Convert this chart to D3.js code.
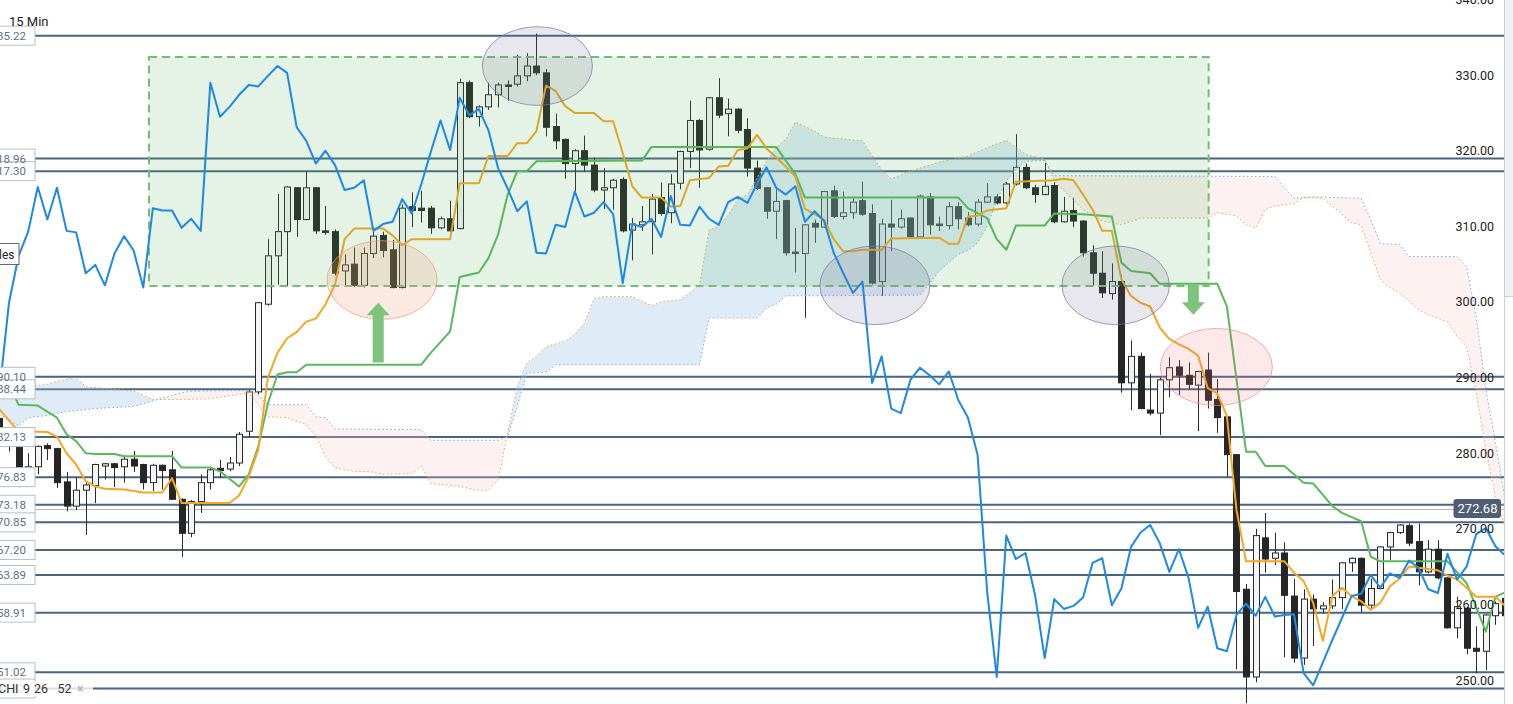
<!DOCTYPE html>
<html>
<head>
<meta charset="utf-8">
<script src="https://cdn.jsdelivr.net/npm/d3@7"></script>
<style>
html, body { margin: 0; padding: 0; background: #fff; overflow: hidden; }
svg { display: block; font-family: Roboto, "Open Sans", sans-serif; }
</style>
</head>
<body>
<div id="chart"></div>
<script>
// 15 min candles, first one sits at bar index -1 (half off the left edge)
var firstIndex = -1;
var candles = [ // [open, high, low, close]
	[284.6,285.5,281.0,281.8],[281.0,283.0,280.2,281.8],[280.9,282.4,275.5,276.3],[276.3,280.0,276.0,278.2],
	[278.2,281.0,277.2,280.9],[281.0,281.3,279.1,280.6],[280.6,280.7,275.4,276.1],[276.2,277.5,272.3,273.0],
	[273.0,276.8,272.5,275.1],[275.1,276.3,269.2,275.8],[275.7,278.6,273.4,278.5],[278.3,278.7,276.5,278.6],
	[278.6,278.7,275.5,278.1],[278.2,279.5,276.1,279.2],[279.2,280.3,277.5,278.3],[278.5,278.6,275.2,276.1],
	[276.1,278.6,275.0,278.4],[278.4,278.5,275.2,277.7],[277.8,280.3,273.8,273.9],[273.9,274.0,266.3,269.4],
	[269.4,273.8,268.9,273.6],[273.6,277.2,272.1,276.1],[276.1,278.2,275.2,277.8],[278.0,279.1,276.7,277.7],
	[277.9,279.5,277.6,278.7],[278.7,282.8,278.3,282.5],[282.9,288.4,282.1,288.1],[288.1,300.0,287.8,299.9],
	[299.7,308.3,299.5,306.1],[306.1,314.3,302.3,309.3],[309.3,315.3,302.1,315.2],[315.1,315.2,308.6,310.9],
	[310.9,317.3,310.8,315.1],[315.1,315.2,309.0,309.4],[309.4,312.7,308.9,309.2],[309.3,309.6,303.5,303.8],
	[304.1,306.3,302.1,304.9],[305.0,307.2,302.0,302.2],[302.2,307.2,301.9,306.4],[306.4,309.3,305.8,308.7],
	[308.8,309.3,305.9,306.8],[306.9,308.2,301.8,301.9],[301.9,312.9,301.8,312.4],[312.6,314.5,309.9,312.1],
	[312.4,314.7,310.5,312.1],[312.4,312.7,309.0,309.8],[309.8,311.3,309.6,311.0],[311.0,313.4,309.3,309.4],
	[309.7,329.5,309.6,329.0],[329.0,329.3,324.3,324.5],[324.5,326.0,323.2,325.8],[325.8,329.0,325.4,327.4],
	[327.4,329.0,325.7,328.7],[328.7,329.3,326.6,328.5],[328.8,332.7,328.5,329.9],[329.9,332.9,329.2,331.2],
	[331.2,335.5,330.0,330.3],[330.3,330.8,321.9,323.1],[323.2,324.9,320.2,321.3],[321.5,321.6,316.3,318.3],
	[318.3,320.2,314.6,320.0],[320.0,322.0,317.2,318.1],[318.1,319.1,314.5,314.8],[314.8,317.7,312.3,315.1],
	[315.1,316.3,312.2,316.1],[316.2,316.5,309.2,309.4],[309.5,311.1,305.5,310.3],[310.2,312.7,309.4,310.6],
	[310.6,314.3,306.3,313.6],[313.8,315.8,311.4,311.7],[311.8,316.9,310.4,315.6],[315.7,320.0,314.9,319.9],
	[319.9,326.6,317.7,324.0],[324.0,324.2,315.1,320.1],[320.2,327.1,320.0,327.0],[327.0,329.6,324.3,324.7],
	[324.9,326.9,321.9,325.5],[325.5,325.6,322.3,322.7],[322.8,324.3,316.6,317.7],[317.7,318.7,314.8,315.0],
	[315.1,315.2,311.0,312.0],[312.0,314.9,308.3,313.3],[313.4,313.5,306.1,306.5],[306.6,309.8,303.9,306.4],
	[306.4,310.3,297.9,310.2],[310.4,310.9,307.8,309.9],[309.9,314.7,309.8,314.6],[314.7,315.4,311.1,311.3],
	[311.3,314.6,310.9,311.8],[311.8,313.9,311.0,313.2],[313.4,315.9,311.4,311.6],[311.7,312.9,302.3,302.5],
	[302.7,311.0,300.8,310.3],[310.3,313.5,306.7,309.9],[309.9,312.2,309.7,311.0],[311.1,311.2,308.4,308.6],
	[308.6,314.2,308.4,314.0],[313.9,314.4,308.9,310.2],[310.3,311.3,309.4,310.1],[310.1,313.2,309.6,312.6],
	[312.6,313.2,309.6,311.0],[311.1,311.9,310.0,310.2],[310.3,313.6,310.0,313.2],[313.2,315.7,313.1,313.9],
	[313.9,314.3,312.9,313.1],[313.1,315.9,312.9,315.6],[315.6,322.2,315.4,317.8],[317.8,318.3,314.9,315.1],
	[315.1,315.5,313.1,314.2],[314.2,318.4,314.1,315.3],[315.4,315.8,310.4,310.6],[310.6,313.9,310.5,312.0],
	[312.1,313.8,309.9,310.7],[310.7,310.8,306.0,306.5],[306.5,307.5,302.2,303.8],[303.8,306.7,300.5,301.2],
	[301.1,305.1,300.3,302.7],[302.7,303.6,288.0,289.3],[289.3,294.9,285.7,292.8],[292.8,293.3,285.8,285.9],
	[285.7,290.5,285.0,285.3],[285.3,290.0,282.4,289.7],[289.7,292.7,287.4,291.3],[291.4,292.3,287.7,290.3],
	[290.3,292.0,288.4,289.1],[289.0,290.9,282.9,290.8],[291.0,293.3,285.9,287.0],[287.1,289.8,282.7,284.7],
	[284.8,284.9,276.9,279.8],[279.8,279.9,251.4,261.7],[262.0,262.7,246.9,250.4],[250.4,270.0,249.7,269.1],
	[268.8,272.1,264.2,266.0],[266.1,269.5,265.2,266.8],[266.8,268.2,253.0,261.2],[261.1,263.4,252.3,252.9],
	[252.9,262.0,252.0,260.7],[260.7,261.3,254.5,259.4],[259.4,260.3,258.8,259.8],[259.8,263.3,259.4,260.9],
	[260.9,265.6,259.4,265.5],[265.5,266.2,264.3,266.1],[266.1,266.2,259.0,259.9],[259.9,263.4,259.4,262.1],
	[262.1,267.7,262.0,267.6],[267.6,269.6,265.9,269.5],[269.5,270.6,269.3,270.5],[270.4,270.7,267.7,268.1],
	[268.3,270.7,262.5,264.3],[264.3,268.5,264.1,267.3],[267.3,268.5,263.3,263.5],[263.5,263.6,256.8,256.9],
	[256.9,261.0,255.5,259.7],[259.5,259.7,253.4,254.2],[254.2,257.1,250.9,253.8],[253.8,258.7,251.3,258.6],
	[258.5,260.4,257.3,260.1],[260.8,261.0,258.3,258.5]
];

// lagging span (blue), one value per bar starting at index -1
var laggingSpan = [288.1,
	299.9,306.1,309.3,315.2,310.9,315.1,309.4,309.2,303.8,304.9,
	302.2,306.4,308.7,306.8,301.9,312.4,312.1,312.1,309.8,311.0,
	309.4,329.0,324.5,325.8,327.4,328.7,328.5,329.9,331.2,330.3,
	323.1,321.3,318.3,320.0,318.1,314.8,315.1,316.1,309.4,310.3,
	310.6,313.6,311.7,315.6,319.9,324.0,320.1,327.0,324.7,325.5,
	322.7,317.7,315.0,312.0,313.3,306.5,306.4,310.2,309.9,314.6,
	311.3,311.8,313.2,311.6,302.5,310.3,309.9,311.0,308.6,314.0,
	310.2,310.1,312.6,311.0,310.2,313.2,313.9,313.1,315.6,317.8,
	315.1,314.2,315.3,310.6,312.0,310.7,306.5,303.8,301.2,302.7,
	289.3,292.8,285.9,285.3,289.7,291.3,290.3,289.1,290.8,287.0,
	284.7,279.8,261.7,250.4,269.1,266.0,266.8,261.2,252.9,260.7,
	259.4,259.8,260.9,265.5,266.1,259.9,262.1,267.6,269.5,270.5,
	268.1,264.3,267.3,263.5,256.9,259.7,254.2,253.8,258.6,260.1,
	258.5,261.0,258.4,258.6,258.7,250.9,249.3,252.3,255.3,258.2,
	261.1,261.4,263.9,262.2,264.1,263.5,265.8,264.8,262.0,261.5,
	266.7,263.3,265.0,269.3,270.1,267.7,266.5];

// conversion line (orange) - [bar, value] at the turning points
var tenkan = [[-1,285.8],[1,282.9],[4,282.8],[5,282.2],[6,280.0],[7,278.5],[8,276.3],[9,275.6],[10,275.3],[12,275.2],
	[13,275.0],[14,274.8],[16,274.8],[17,276.7],[18,273.4],[23,273.4],[24,274.4],[25,276.9],[26,280.5],[27,290.0],
	[28,293.3],[29,295.2],[30,296.0],[31,297.4],[32,297.8],[33,299.7],[34,302.3],[35,308.3],[36,309.7],[39,309.7],
	[40,308.8],[41,307.5],[42,308.3],[46,308.3],[47,315.7],[49,315.7],[50,319.3],[52,319.3],[53,321.0],[54,321.0],
	[55,322.6],[56,328.6],[57,327.9],[58,325.9],[59,325.0],[61,325.0],[62,323.9],[63,323.9],[64,319.7],[65,315.3],
	[66,313.8],[68,313.8],[69,312.6],[70,312.7],[71,316.1],[73,316.4],[74,317.9],[75,318.0],[76,320.1],[77,320.3],
	[78,322.1],[79,320.3],[81,317.9],[82,316.6],[83,312.3],[84,311.6],[85,310.9],[86,308.3],[87,306.7],[88,306.7],
	[89,306.9],[91,306.9],[92,308.4],[97,308.5],[98,307.7],[99,307.7],[100,311.3],[101,311.4],[102,312.1],[104,312.4],
	[105,315.9],[109,316.1],[110,316.3],[111,316.1],[112,314.2],[113,312.2],[114,309.4],[115,309.4],[116,303.0],[117,300.8],
	[118,299.9],[119,299.4],[120,296.6],[121,295.1],[122,294.4],[123,293.8],[124,292.9],[125,288.6],[126,287.9],[127,284.9],
	[128,272.5],[129,265.7],[133,265.7],[134,264.2],[135,263.1],[136,260.2],[137,255.2],[138,261.1],[139,262.2],[140,261.1],
	[141,260.4],[142,259.3],[143,260.2],[144,262.4],[145,263.4],[146,265.0],[149,264.5],[150,263.8],[151,263.3],[152,262.2],
	[153,261.0],[155,261.0],[156,259.8]];

// base line (green)
var kijun = [[-1,290.5],[0,289.3],[1,286.4],[3,286.3],[4,285.5],[5,284.7],[6,282.5],[7,281.6],[8,280.0],[9,279.9],
	[11,279.9],[12,279.6],[17,279.6],[18,278.1],[21,278.1],[22,277.6],[24,275.6],[25,277.2],[26,280.9],[27,286.6],
	[28,290.4],[29,290.7],[30,290.7],[31,291.7],[43,291.7],[44,293.3],[46,296.1],[47,303.3],[49,303.9],[50,305.8],
	[51,308.9],[52,314.2],[53,317.3],[54,317.3],[55,318.6],[66,318.7],[67,320.5],[80,320.5],[82,316.9],[83,313.8],
	[99,313.8],[100,312.4],[102,311.1],[103,308.3],[104,306.9],[105,310.1],[108,310.1],[109,311.7],[112,311.6],[115,311.3],
	[116,305.2],[117,304.1],[119,303.8],[120,302.4],[126,302.4],[127,299.4],[129,280.2],[130,280.2],[131,278.3],[133,278.3],
	[135,276.1],[136,276.0],[138,273.0],[139,272.1],[141,271.0],[142,266.3],[143,265.7],[150,265.7],[152,262.8],[154,256.4],
	[155,261.0],[156,261.6]];

// leading span B (orange dots) and leading span A (blue dots)
var spanB = [[-1,288.1],[1,288.7],[4,289.1],[5,289.5],[7,290.0],[8,288.8],[13,288.2],[15,287.1],[18,287.1],[21,287.2],
	[23,287.6],[25,288.0],[27,284.8],[29,284.7],[31,283.8],[32,282.2],[33,279.6],[34,278.1],[36,277.6],[38,277.5],
	[39,277.2],[42,277.3],[43,278.3],[44,276.0],[47,275.6],[49,275.1],[50,275.1],[51,276.5],[52,282.7],[53,288.8],
	[54,291.9],[55,292.8],[56,294.1],[58,294.8],[59,295.7],[60,297.2],[61,300.4],[62,300.7],[65,300.7],[67,299.5],
	[68,300.0],[70,300.3],[71,301.2],[72,302.2],[73,309.5],[74,310.0],[75,311.5],[76,313.5],[77,314.2],[79,318.6],
	[80,320.4],[81,321.5],[82,323.8],[84,322.6],[85,321.8],[89,321.3],[91,317.5],[92,316.3],[94,317.3],[97,318.5],
	[100,319.3],[102,320.4],[104,321.4],[106,319.5],[108,318.9],[109,316.0],[112,312.2],[114,310.7],[116,310.2],[118,311.1],
	[125,311.1],[126,311.8],[128,311.4],[129,310.2],[130,309.8],[131,312.2],[132,312.7],[134,313.0],[135,313.8],[137,313.7],
	[138,312.7],[140,310.5],[141,310.2],[142,306.5],[143,303.0],[144,301.9],[145,301.2],[147,299.0],[148,298.3],[150,297.4],
	[151,295.5],[152,294.1],[153,288.0],[154,280.5],[155,274.3],[156,270.0]];
var spanA = [[-1,285.1],[1,283.6],[2,284.7],[4,285.0],[6,285.5],[9,285.9],[13,286.2],[15,286.9],[18,288.0],[19,288.2],
	[25,288.3],[26,287.7],[27,286.4],[31,286.4],[32,284.8],[33,284.7],[34,283.2],[43,283.1],[44,281.7],[51,281.7],
	[52,282.2],[53,286.2],[54,290.6],[56,290.7],[57,291.7],[72,291.7],[73,297.9],[78,297.9],[79,299.2],[80,299.7],
	[81,300.8],[95,300.9],[96,302.5],[97,304.1],[99,306.3],[100,306.8],[101,307.8],[102,310.0],[103,313.5],[104,316.0],
	[105,317.5],[106,318.6],[108,318.7],[109,316.7],[132,316.6],[133,315.1],[134,313.7],[136,313.9],[141,313.7],[142,310.9],
	[143,307.7],[145,307.6],[146,306.0],[151,306.0],[152,304.7],[153,298.0],[154,288.4],[155,281.4],[156,273.9]];

// horizontal support / resistance levels
var levels = [335.22, 318.96, 317.30, 290.10, 288.44, 282.13, 276.83, 273.18, 270.85, 267.20, 263.89, 258.91, 251.02, 248.87];
var priceTicks = [250, 260, 270, 280, 290, 300, 310, 320, 330, 340];
var lastPrice = 272.68;

// drawn annotations, in bar / price units
var zone = {from: 14.6, to: 125.1, top: 332.4, bottom: 302.1};
var circles = [
	{bar: 55.1, price: 331.2, rb: 5.74, rp: 5.2, kind: "grey"},
	{bar: 38.9, price: 302.9, rb: 5.74, rp: 5.2, kind: "peach"},
	{bar: 90.3, price: 302.2, rb: 5.74, rp: 5.2, kind: "grey"},
	{bar: 115.4, price: 302.2, rb: 5.6, rp: 5.2, kind: "grey"},
	{bar: 125.9, price: 291.4, rb: 5.84, rp: 5.1, kind: "pink"}
];
var arrows = [
	{bar: 38.5, from: 292.0, to: 299.9},
	{bar: 123.5, from: 302.3, to: 298.3}
];

var W = 1513, H = 704, plotRight = 1504;

var x = d3.scaleLinear().domain([0, 155]).range([9, 1495.4]);
var y = d3.scaleLinear().domain([250, 340]).range([680, -0.5]);

var svg = d3.select("#chart").append("svg")
	.attr("width", W)
	.attr("height", H);

svg.append("defs").append("clipPath").attr("id", "plotClip")
	.append("rect").attr("x", 0).attr("y", 0).attr("width", plotRight).attr("height", H);

var plot = svg.append("g").attr("clip-path", "url(#plotClip)");

// level lines
plot.selectAll("line.level")
	.data(levels)
	.enter()
		.append("line")
		.attr("class", "level")
		.attr("x1", 0)
		.attr("x2", plotRight)
		.attr("y1", function(d) { return y(d); })
		.attr("y2", function(d) { return y(d); })
		.attr("stroke", "#4a6580")
		.attr("stroke-width", 2);

plot.append("line")
	.attr("x1", 0).attr("x2", plotRight)
	.attr("y1", Math.round(y(lastPrice)) + 0.5)
	.attr("y2", Math.round(y(lastPrice)) + 0.5)
	.attr("stroke", "#b3bac4")
	.attr("stroke-width", 1);

// candles
function cx(k) { return Math.round(x(k + firstIndex)); }

var candleG = plot.append("g");
candleG.selectAll("line")
	.data(candles)
	.enter()
		.append("line")
		.attr("x1", function(d, k) { return cx(k) + 0.5; })
		.attr("x2", function(d, k) { return cx(k) + 0.5; })
		.attr("y1", function(d) { return y(d[1]); })
		.attr("y2", function(d) { return y(d[2]); })
		.attr("stroke", "#2a2a2a")
		.attr("stroke-width", 1);

candleG.selectAll("rect")
	.data(candles)
	.enter()
		.append("rect")
		.attr("x", function(d, k) { return cx(k) - 2.5; })
		.attr("width", 6)
		.attr("y", function(d) { return y(Math.max(d[0], d[3])); })
		.attr("height", function(d) { return Math.max(1, Math.abs(y(d[0]) - y(d[3]))); })
		.attr("fill", function(d) { return d[3] >= d[0] ? "#f4f4f4" : "#262626"; })
		.attr("stroke", function(d) { return d[3] >= d[0] ? "#2a2a2a" : "#262626"; })
		.attr("stroke-width", 1);

// cloud
var line = d3.line()
	.x(function(d) { return x(d[0]); })
	.y(function(d) { return y(d[1]); });

var xs = x(firstIndex - 1), xe = x(157);
var aboveA = line(spanA) + "L" + xe + ",-10L" + xs + ",-10Z";
var belowA = line(spanA) + "L" + xe + "," + (H + 10) + "L" + xs + "," + (H + 10) + "Z";
var band = line(spanB.concat(spanA.slice().reverse())) + "Z";

var defs = svg.select("defs");
defs.append("clipPath").attr("id", "aboveA").append("path").attr("d", aboveA);
defs.append("clipPath").attr("id", "belowA").append("path").attr("d", belowA);

plot.append("g").attr("clip-path", "url(#aboveA)")
	.append("path").attr("d", band).attr("fill", "rgba(150,190,230,0.3)");
plot.append("g").attr("clip-path", "url(#belowA)")
	.append("path").attr("d", band).attr("fill", "rgba(250,200,200,0.25)");

plot.append("path").datum(spanA)
	.attr("d", line)
	.attr("fill", "none")
	.attr("stroke", "#7aaee6")
	.attr("stroke-width", 1)
	.attr("stroke-dasharray", "1.5,2.5");
plot.append("path").datum(spanB)
	.attr("d", line)
	.attr("fill", "none")
	.attr("stroke", "#e8a850")
	.attr("stroke-width", 1)
	.attr("stroke-dasharray", "1.5,2.5");

plot.append("path").datum(kijun)
	.attr("d", line)
	.attr("fill", "none")
	.attr("stroke", "#5cb85c")
	.attr("stroke-width", 2)
	.attr("stroke-linejoin", "round");
plot.append("path").datum(tenkan)
	.attr("d", line)
	.attr("fill", "none")
	.attr("stroke", "#f5a623")
	.attr("stroke-width", 2)
	.attr("stroke-linejoin", "round");

// the green zone
plot.append("rect")
	.attr("x", x(zone.from))
	.attr("y", y(zone.top))
	.attr("width", x(zone.to) - x(zone.from))
	.attr("height", y(zone.bottom) - y(zone.top))
	.attr("fill", "rgba(76,175,80,0.15)")
	.attr("stroke", "#74be74")
	.attr("stroke-width", 2)
	.attr("stroke-dasharray", "8,5");

plot.append("path").datum(laggingSpan.map(function(v, k) { return [k + firstIndex, v]; }))
	.attr("d", line)
	.attr("fill", "none")
	.attr("stroke", "#1e88e5")
	.attr("stroke-width", 2)
	.attr("stroke-linejoin", "round");

var circleStyle = {
	grey: ["rgba(120,105,150,0.16)", "rgba(130,110,165,0.7)"],
	peach: ["rgba(240,150,110,0.2)", "rgba(240,150,120,0.7)"],
	pink: ["rgba(240,120,120,0.16)", "rgba(240,140,140,0.7)"]
};
plot.selectAll("ellipse")
	.data(circles)
	.enter()
		.append("ellipse")
		.attr("cx", function(d) { return x(d.bar); })
		.attr("cy", function(d) { return y(d.price); })
		.attr("rx", function(d) { return x(d.bar + d.rb) - x(d.bar); })
		.attr("ry", function(d) { return y(d.price - d.rp) - y(d.price); })
		.attr("fill", function(d) { return circleStyle[d.kind][0]; })
		.attr("stroke", function(d) { return circleStyle[d.kind][1]; })
		.attr("stroke-width", 1);

// arrows: shaft from "from" price, head pointing at "to"
plot.selectAll("path.arrow")
	.data(arrows)
	.enter()
		.append("path")
		.attr("class", "arrow")
		.attr("fill", "#7cc47c")
		.attr("d", function(d) {
			var ax = x(d.bar), y0 = y(d.from), y1 = y(d.to);
			var dir = y1 < y0 ? -1 : 1;
			var hb = y1 - dir * 12.5;
			return "M" + (ax - 5.5) + "," + y0 + "L" + (ax - 5.5) + "," + hb + "L" + (ax - 11.5) + "," + hb +
				"L" + ax + "," + y1 + "L" + (ax + 11.5) + "," + hb + "L" + (ax + 5.5) + "," + hb +
				"L" + (ax + 5.5) + "," + y0 + "Z";
		});

// left level labels (mostly cut by the edge)
var labG = svg.append("g");
labG.selectAll("rect")
	.data(levels)
	.enter()
		.append("rect")
		.attr("x", -15)
		.attr("y", function(d) { return y(d) - 9.5; })
		.attr("width", 50)
		.attr("height", 19)
		.attr("fill", "#fff")
		.attr("stroke", "#b9bec6");
labG.selectAll("text")
	.data(levels)
	.enter()
		.append("text")
		.attr("x", 26)
		.attr("y", function(d) { return y(d) + 4; })
		.attr("text-anchor", "end")
		.attr("font-size", 11.5)
		.attr("fill", "#5b7189")
		.text(function(d) { return d.toFixed(2); });

// right axis
var axis = svg.append("g")
	.attr("transform", "translate(1494,0)")
	.call(d3.axisLeft(y).tickValues(priceTicks).tickFormat(d3.format(".2f")).tickSize(0).tickPadding(0));
axis.select(".domain").remove();
axis.selectAll("text")
	.attr("font-size", 12.5)
	.attr("font-family", "Roboto, sans-serif")
	.attr("fill", "#222");

svg.append("rect")
	.attr("x", 1453.5).attr("y", y(lastPrice) - 9.5)
	.attr("width", 47.5).attr("height", 19)
	.attr("rx", 3)
	.attr("fill", "#4f5d75");
svg.append("text")
	.attr("x", 1477.5).attr("y", y(lastPrice) + 4.5)
	.attr("text-anchor", "middle")
	.attr("font-size", 13)
	.attr("fill", "#fff")
	.text(lastPrice.toFixed(2));

// right side strip
svg.append("rect").attr("x", plotRight).attr("y", 0).attr("width", W - plotRight).attr("height", 296).attr("fill", "#eef2f3");
svg.append("line").attr("x1", plotRight + 0.5).attr("x2", plotRight + 0.5).attr("y1", 0).attr("y2", H).attr("stroke", "#c9cfd4");
svg.append("line").attr("x1", plotRight).attr("x2", W).attr("y1", 296.5).attr("y2", 296.5).attr("stroke", "#c9cfd4");

// texts
svg.append("text").attr("x", 9).attr("y", 26).attr("font-size", 13).attr("fill", "#222").text("15 Min");

svg.append("rect").attr("x", -45).attr("y", 243.5).attr("width", 64).attr("height", 21)
	.attr("fill", "#fff").attr("stroke", "#666");
svg.append("text").attr("x", 14.5).attr("y", 258.5).attr("text-anchor", "end")
	.attr("font-size", 12).attr("fill", "#222").text("Candles");

svg.append("rect").attr("x", -1).attr("y", 681).attr("width", 94).attr("height", 15)
	.attr("fill", "#fff").attr("opacity", 0.8);
var legend = [["ICHI", 18.5, "#333"], ["9", 23, "#333"], ["26", 34, "#333"], ["52", 57.5, "#333"], ["\u00d7", 77, "#aaa"]];
svg.selectAll("text.legend")
	.data(legend)
	.enter()
		.append("text")
		.attr("class", "legend")
		.attr("x", function(d) { return d[1]; })
		.attr("y", 693)
		.attr("font-size", 12.5)
		.attr("text-anchor", function(d, i) { return i === 0 ? "end" : "start"; })
		.attr("fill", function(d) { return d[2]; })
		.text(function(d) { return d[0]; });
</script>
</body>
</html>
